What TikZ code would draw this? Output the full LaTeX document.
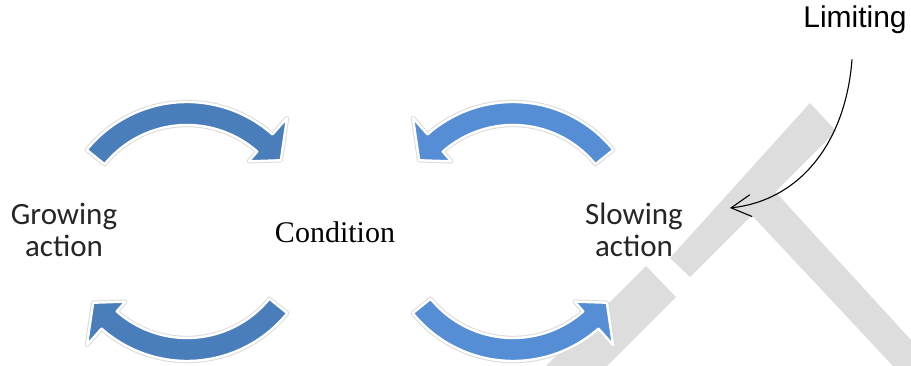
\documentclass[tikz,border=0pt]{standalone}
\usepackage{fontspec}
\setmainfont{Liberation Serif}
\newfontfamily\calibrifont{Carlito}
\newfontfamily\arialfont{Liberation Sans}
\usetikzlibrary{arrows.meta}
\definecolor{blueL}{HTML}{4A7EBB}
\definecolor{blueR}{HTML}{558ED5}
\definecolor{barg}{HTML}{DDDDDD}
\tikzset{
  arrowbody/.style={fill=#1, draw=white, line width=2.4pt, line join=round,
    preaction={draw=black!14, line width=4.4pt, line join=round}},
  sidelabel/.style={font=\calibrifont\fontsize{31}{32}\selectfont, align=center, text=black!85, inner sep=0pt},
  midlabel/.style={font=\fontsize{30}{34}\selectfont, inner sep=0pt},
  toplabel/.style={font=\arialfont\fontsize{30}{34}\selectfont, inner sep=0pt},
  barrier/.style={fill=barg}
}
\newcommand\carrowpath[1]{%
  \path[arrowbody=#1] (141:129) arc[start angle=141,end angle=48.5,radius=129]
    -- (48.5:151) -- (37:117.5) -- (48.5:93) -- (48.5:106)
    arc[start angle=48.5,end angle=141,radius=106] -- cycle;}
\begin{document}
\begin{tikzpicture}[x=1pt,y=1pt]
\useasboundingbox (0,0) rectangle (911,366);
% limiting barrier bars
\path[barrier] (810,263) -- (836,235) -- (690,89) -- (670,108) -- cycle;
\path[barrier] (646,100) -- (676,69) -- (607,0) -- (546,0) -- cycle;
\path[barrier] (770,180) -- (911,26) -- (911,0) -- (893,0) -- (745,158) -- cycle;
% curved arrows
\begin{scope}[shift={(187,135)}]
  \carrowpath{blueL}
\end{scope}
\begin{scope}[shift={(513,135)},xscale=-1]
  \carrowpath{blueR}
\end{scope}
\begin{scope}[shift={(187,134)},rotate=180]
  \carrowpath{blueL}
\end{scope}
\begin{scope}[shift={(513,134)},yscale=-1]
  \carrowpath{blueR}
\end{scope}
% labels
\node[sidelabel] (growing) at (64,136) {Growing\\action};
\node[midlabel, anchor=base] (condition) at (335,123) {Condition};
\node[sidelabel] (slowing) at (634,136) {Slowing\\action};
\node[toplabel, anchor=base] (limiting) at (855,338) {Limiting};
% connector
\coordinate (limitend) at (730,158);
\draw[line width=1.1pt, -{Straight Barb[length=20pt,width=22pt]}]
  ([xshift=-3pt,yshift=-25pt]limiting.south) .. controls (846,226) and (802,166) .. (limitend);
\end{tikzpicture}
\end{document}
